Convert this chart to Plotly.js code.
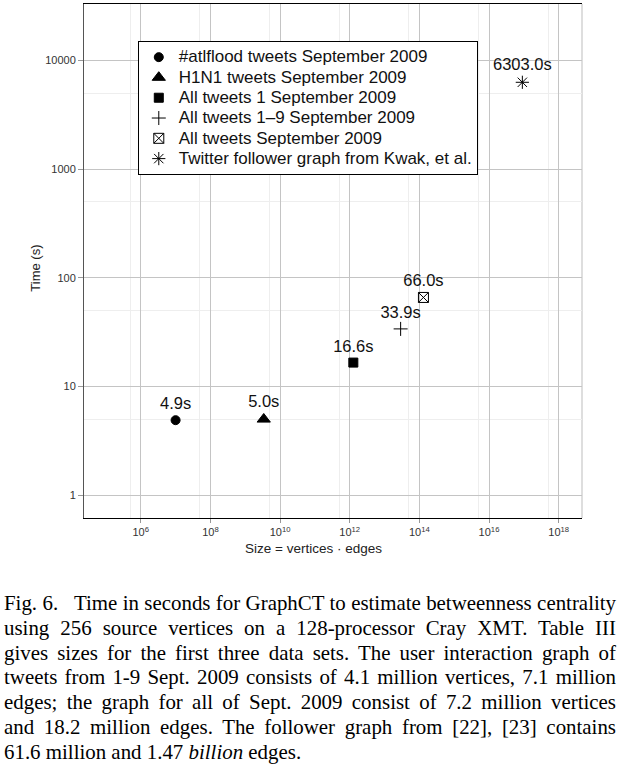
<!DOCTYPE html>
<html>
<head>
<meta charset="utf-8">
<script src="https://cdn.plot.ly/plotly-3.0.1.min.js"></script>
<style>
  html, body { margin: 0; padding: 0; background: #fff; }
  body { width: 620px; height: 766px; position: relative; overflow: hidden; }
  #chart { position: absolute; left: 0; top: 0; width: 620px; height: 580px; }
  #caption {
    position: absolute; left: 4px; top: 591px; width: 612px;
    font-family: "Liberation Serif", "Times New Roman", Times, serif;
    font-size: 20.9px; line-height: 24.8px; color: #000;
  }
  #caption .ln { font-size: 20.9px; text-align: justify; text-align-last: justify; white-space: nowrap; }
  #caption .ln.last { text-align: left; text-align-last: left; }
  #caption i { font-size: 20.9px; }
</style>
</head>
<body>
<div id="chart"></div>
<div id="caption">
  <div class="ln">Fig. 6.&nbsp;&nbsp; Time in seconds for GraphCT to estimate betweenness centrality</div>
  <div class="ln">using 256 source vertices on a 128-processor Cray XMT. Table III</div>
  <div class="ln">gives sizes for the first three data sets. The user interaction graph of</div>
  <div class="ln">tweets from 1-9 Sept. 2009 consists of 4.1 million vertices, 7.1 million</div>
  <div class="ln">edges; the graph for all of Sept. 2009 consist of 7.2 million vertices</div>
  <div class="ln">and 18.2 million edges. The follower graph from [22], [23] contains</div>
  <div class="ln last">61.6 million and 1.47 <i>billion</i> edges.</div>
</div>
<script>
// ---- data ----
const seriesNames = [
  "#atlflood tweets September 2009",
  "H1N1 tweets September 2009",
  "All tweets 1 September 2009",
  "All tweets 1\u20139 September 2009",
  "All tweets September 2009",
  "Twitter follower graph from Kwak, et al."
];
const sizes = [1.0e7, 3.4e9, 1.27e12, 2.9e13, 1.31e14, 9.06e16];   // vertices * edges
const times = [4.9, 5.0, 16.6, 33.9, 66.0, 6303.0];                  // seconds
const pointLabels = ["4.9s", "5.0s", "16.6s", "33.9s", "66.0s", "6303.0s"];

const xTickVals = [1e6, 1e8, 1e10, 1e12, 1e14, 1e16, 1e18];
const xTickText = ["10<sup>6</sup>", "10<sup>8</sup>", "10<sup>10</sup>", "10<sup>12</sup>",
                   "10<sup>14</sup>", "10<sup>16</sup>", "10<sup>18</sup>"];
const xMinorVals = [5e5, 5e7, 5e9, 5e11, 5e13, 5e15, 5e17];
const yTickVals = [1, 10, 100, 1000, 10000];
const yTickText = ["1", "10", "100", "1000", "10000"];
const yMinorVals = [5, 50, 500, 5000];
const xTitle = "Size = vertices \u00b7 edges";
const yTitle = "Time (s)";

// ---- styles ----
const symbols = ["circle", "triangle-up", "square", "cross-thin-open", "square-x-open", "asterisk-open"];
const markerSizes = [9, 11.5, 9, 10, 10, 11];

const FONT = '"Liberation Sans", Arial, Helvetica, sans-serif';
const LEGEND_TEXT_PX = 17;

const traces = seriesNames.map((name, i) => ({
  type: "scatter",
  mode: "markers+text",
  name: '<span style="font-size:' + LEGEND_TEXT_PX + 'px">' + name + '</span>',
  x: [sizes[i]],
  y: [times[i]],
  text: [pointLabels[i]],
  textposition: "top center",
  textfont: { family: FONT, size: 16.5, color: "#111" },
  cliponaxis: false,
  marker: {
    symbol: symbols[i],
    size: markerSizes[i],
    color: "#000",
    line: { color: "#000", width: 1 }
  },
  hoverinfo: "skip"
}));

const layout = {
  width: 620,
  height: 580,
  margin: { l: 84, r: 38, t: 4, b: 62 },
  paper_bgcolor: "#fff",
  plot_bgcolor: "#fff",
  font: { family: FONT, color: "#222" },
  showlegend: true,
  legend: {
    x: 0.108, y: 0.928, xanchor: "left", yanchor: "top",
    bgcolor: "#fff", bordercolor: "#000", borderwidth: 1,
    font: { family: FONT, size: 13.3, color: "#111" },
    itemwidth: 30,
    tracegroupgap: 0
  },
  xaxis: {
    type: "log",
    range: [4.37, 18.67],
    tickmode: "array",
    tickvals: xTickVals,
    ticktext: xTickText,
    ticks: "outside", ticklen: 4, tickcolor: "#999", tickwidth: 1,
    tickfont: { family: FONT, size: 11, color: "#333" },
    showgrid: true, gridcolor: "#c4c4c4", gridwidth: 1,
    minor: { tickmode: "array", tickvals: xMinorVals, showgrid: true, gridcolor: "#eeeeee", gridwidth: 1, ticks: "" },
    showline: true, linecolor: "#000", linewidth: 1, mirror: true,
    zeroline: false
  },
  yaxis: {
    type: "log",
    range: [-0.21, 4.52],
    tickmode: "array",
    tickvals: yTickVals,
    ticktext: yTickText,
    ticks: "outside", ticklen: 5, tickcolor: "#999", tickwidth: 1,
    tickfont: { family: FONT, size: 11, color: "#333" },
    showgrid: true, gridcolor: "#c4c4c4", gridwidth: 1,
    minor: { tickmode: "array", tickvals: yMinorVals, showgrid: true, gridcolor: "#eeeeee", gridwidth: 1, ticks: "" },
    showline: true, linecolor: "#555", linewidth: 1, mirror: false,
    zeroline: false
  },
  annotations: [
    { text: xTitle, xref: "paper", yref: "paper", x: 0.46, y: 0, yshift: -30,
      xanchor: "center", yanchor: "middle", showarrow: false,
      font: { family: FONT, size: 13.5, color: "#222" } },
    { text: yTitle, xref: "paper", yref: "paper", x: 0, y: 0.485, xshift: -48,
      xanchor: "center", yanchor: "middle", textangle: -90, showarrow: false,
      font: { family: FONT, size: 13, color: "#222" } }
  ],
  shapes: [
    { type: "line", xref: "paper", yref: "paper", x0: 1, x1: 1, y0: 0, y1: 1,
      line: { color: "#bdbdbd", width: 1 }, layer: "below" }
  ]
};

Plotly.newPlot("chart", traces, layout, { staticPlot: true, displayModeBar: false });
</script>
</body>
</html>
